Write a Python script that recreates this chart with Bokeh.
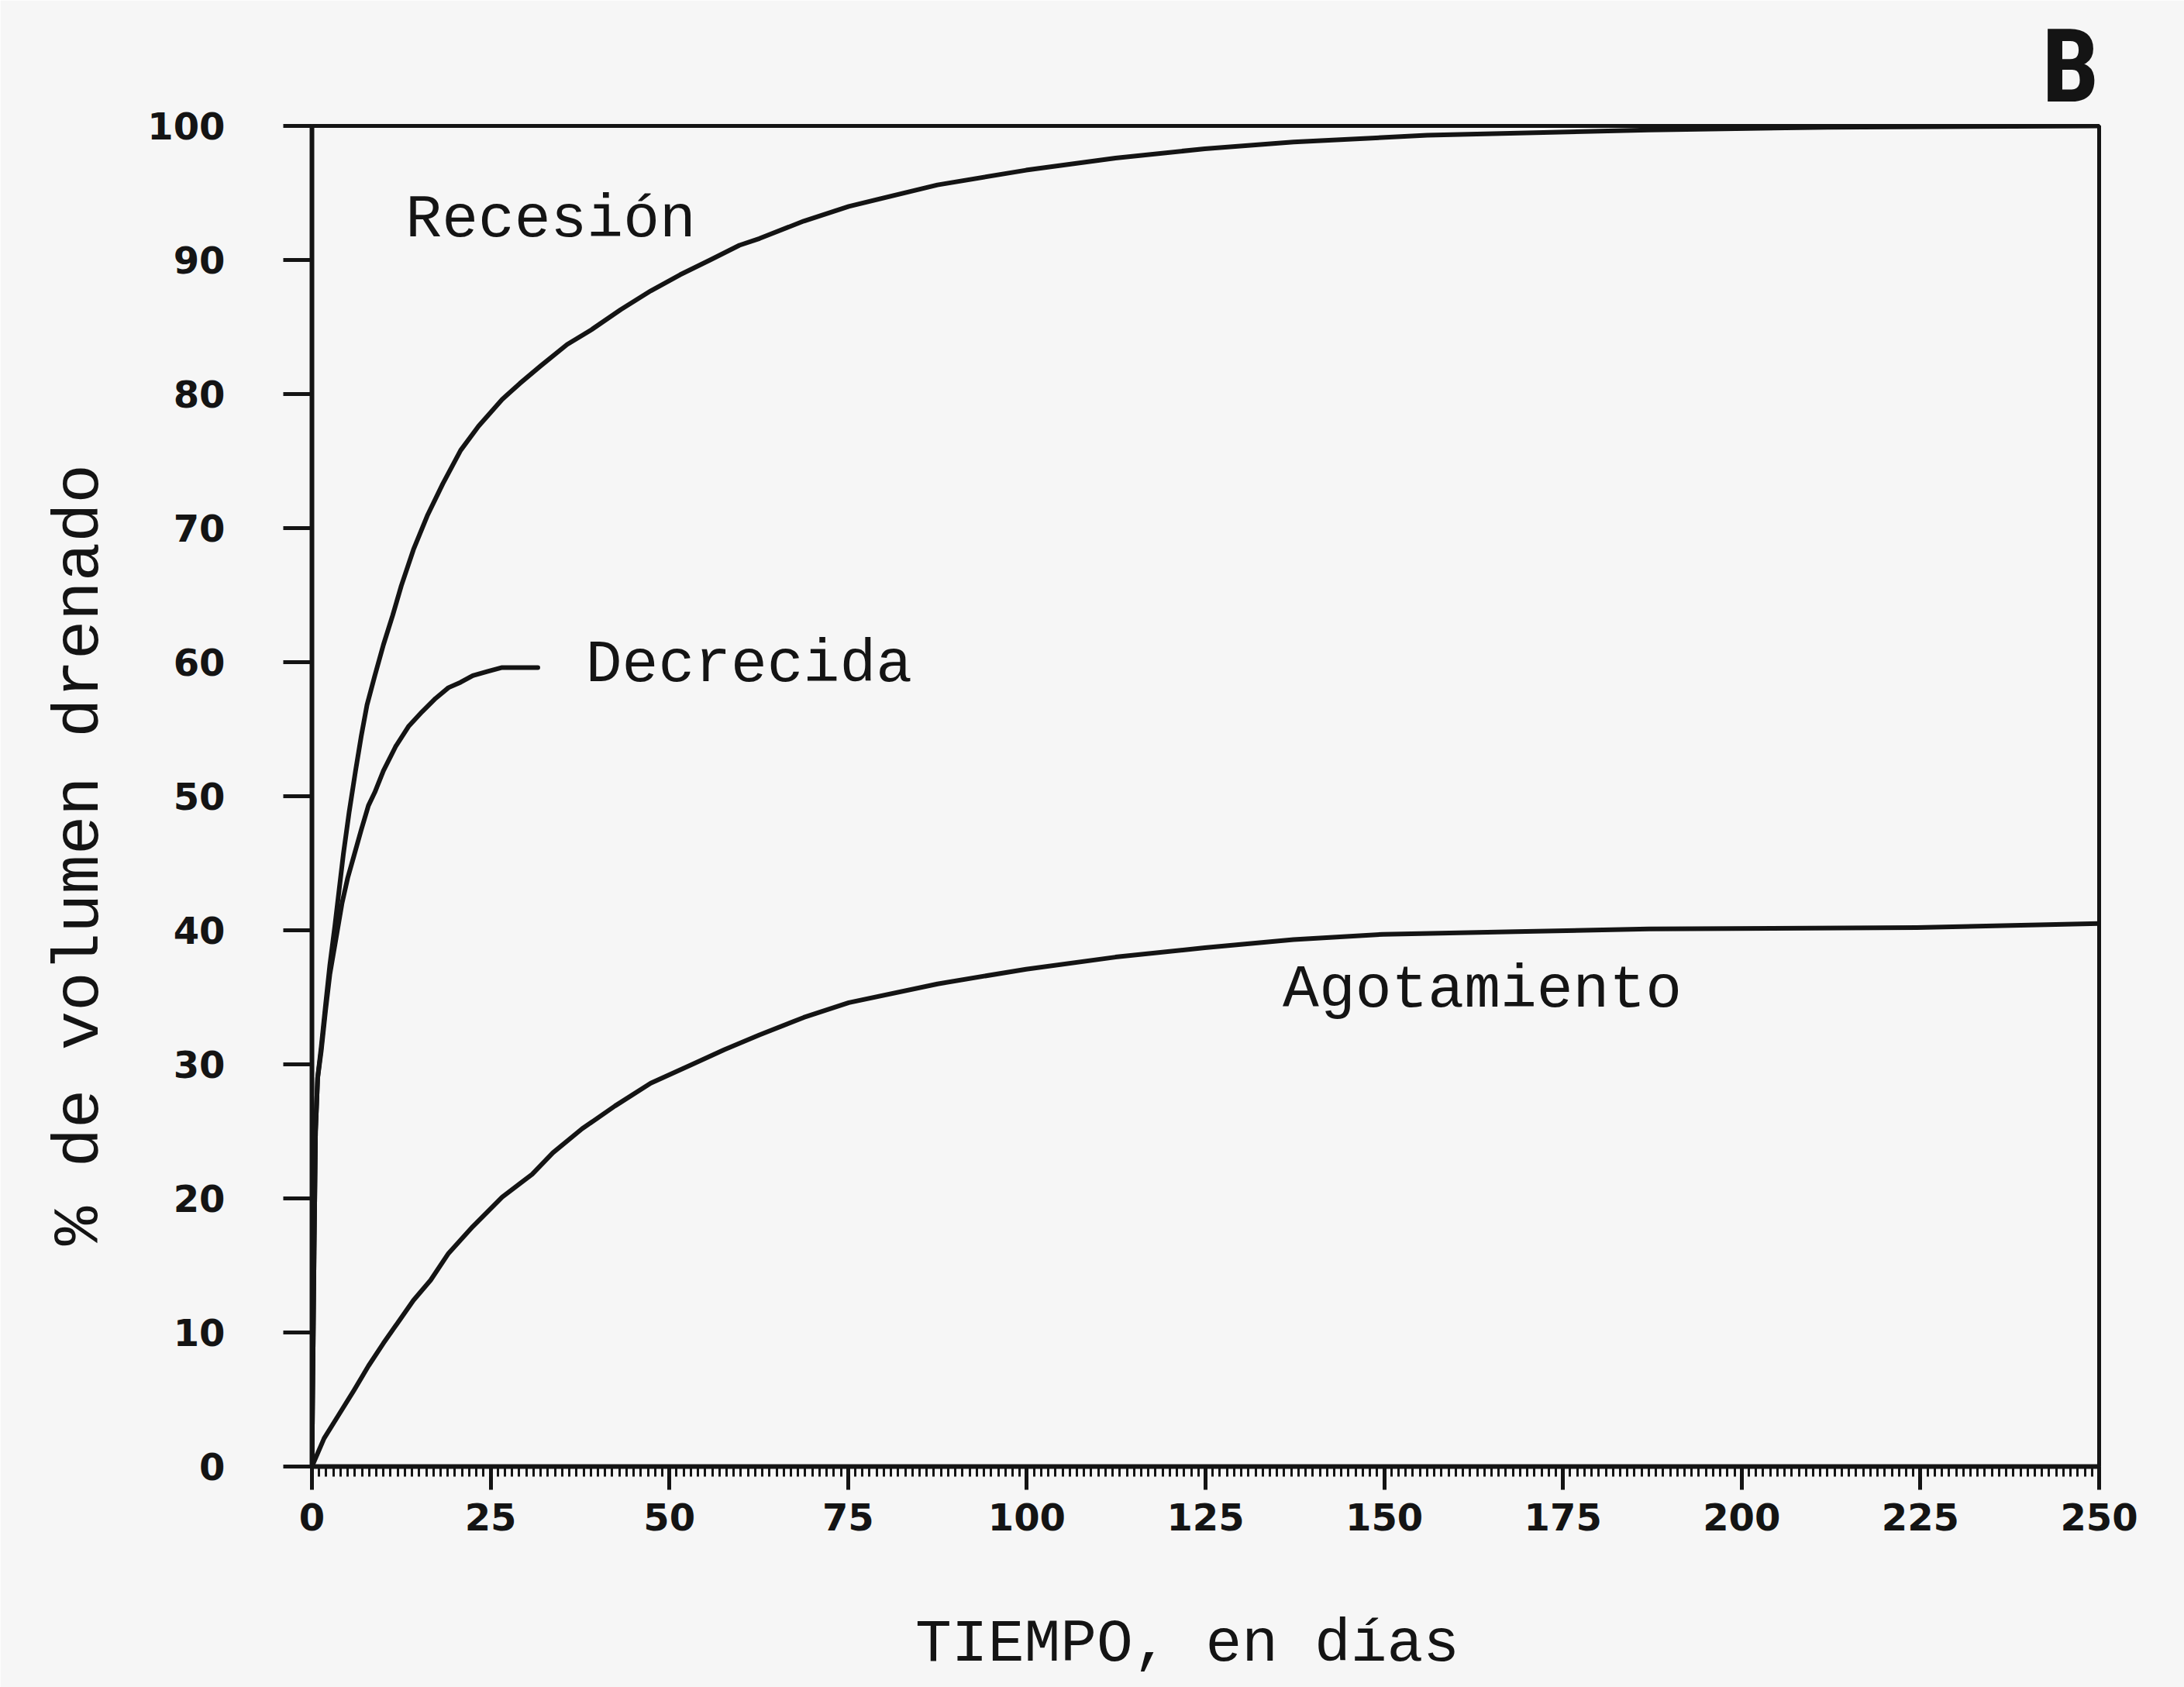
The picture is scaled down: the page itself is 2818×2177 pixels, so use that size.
from bokeh.plotting import figure
from bokeh.models import Range1d, SingleIntervalTicker, Label
from bokeh.embed import file_html
from bokeh.resources import INLINE

# Tiempo (días) y % de volumen drenado acumulado de cada componente
dias_recesion = [0, 0.15, 0.3, 0.5, 0.8, 1.3, 1.9, 2.5, 3.2, 3.8, 4.4, 5.2, 6.1, 6.9,
                 7.7, 8.8, 10.0, 11.3, 12.5, 14.2, 16.2, 18.3, 20.8, 23.3, 26.6,
                 29.1, 32.0, 35.7, 39.1, 43.2, 47.4, 51.5, 55.7, 59.8, 62.6, 68.8,
                 75.1, 87.5, 99.9, 112.4, 124.9, 137.3, 156, 187, 212, 250]
pct_recesion = [0, 8, 16, 25, 29, 31.3, 34.4, 37.4, 40.3, 43.0, 45.7, 48.8, 51.9, 54.5,
                56.8, 59.0, 61.3, 63.5, 65.7, 68.4, 71.0, 73.3, 75.8, 77.6, 79.6,
                80.8, 82.1, 83.7, 84.8, 86.3, 87.7, 88.9, 90.0, 91.1, 91.6, 92.9,
                94.0, 95.6, 96.7, 97.6, 98.3, 98.8, 99.3, 99.7, 99.9, 100]

dias_decrecida = [0, 0.15, 0.3, 0.5, 0.8, 1.3, 1.9, 2.5, 3.4, 4.2, 5.0, 5.9, 6.9, 7.9,
                  8.8, 10.0, 11.7, 13.5, 15.4, 17.3, 19.1, 20.8, 22.5, 24.5, 26.6,
                  31.6]
pct_decrecida = [0, 8, 16, 25, 29, 31.0, 34.0, 36.7, 39.5, 42.0, 43.9, 45.6, 47.5, 49.3,
                 50.3, 51.9, 53.7, 55.2, 56.3, 57.3, 58.1, 58.5, 59.0, 59.3, 59.6,
                 59.6]

dias_agotamiento = [0, 1.7, 3.8, 5.9, 7.9, 10.0, 12.1, 14.2, 16.6, 19.1, 22.5, 26.6,
                    30.8, 33.7, 37.8, 42.4, 47.4, 53.2, 57.7, 62.6, 68.8, 75.1, 87.5,
                    99.9, 112.4, 124.9, 137.3, 149.8, 168.4, 187, 224.5, 250]
pct_agotamiento = [0, 2.1, 3.9, 5.7, 7.5, 9.2, 10.8, 12.4, 13.9, 15.9, 17.9, 20.1,
                   21.8, 23.4, 25.2, 26.9, 28.6, 30.0, 31.1, 32.2, 33.5, 34.6, 36.0,
                   37.1, 38.0, 38.7, 39.3, 39.7, 39.9, 40.1, 40.2, 40.5]

curvas = [
    ("Recesión", dias_recesion, pct_recesion, 13.1, 93.0),
    ("Decrecida", dias_decrecida, pct_decrecida, 38.3, 59.8),
    ("Agotamiento", dias_agotamiento, pct_agotamiento, 135.8, 35.5),
]

INK = "#141414"
BG = "#f6f6f6"
MONO = "Liberation Mono"
NBSP = "\u00a0"

p = figure(width=2818, height=2177, output_backend="svg", toolbar_location=None,
           x_range=Range1d(0, 250), y_range=Range1d(0, 100),
           min_border_left=402, min_border_right=110,
           min_border_top=162, min_border_bottom=285)
p.background_fill_color = BG
p.border_fill_color = BG
p.grid.visible = False
p.outline_line_color = INK
p.outline_line_width = 5
p.outline_line_alpha = 1.0

# Letra del panel, arriba a la derecha
p.title.text = "B"
p.title.align = "right"
p.title.standoff = 0
p.title.text_font = "Liberation Sans Narrow, Roboto Condensed, Roboto"
p.title.text_font_style = "bold"
p.title.text_font_size = "132px"
p.title.text_color = INK

# Eje X: marcas cada 25 días, subdivisión diaria
p.xaxis.ticker = SingleIntervalTicker(interval=25, num_minor_ticks=25)
p.xaxis.major_tick_out = 30
p.xaxis.major_tick_in = 0
p.xaxis.minor_tick_out = 13
p.xaxis.minor_tick_in = 0
p.xaxis.major_label_standoff = 17
p.xaxis.axis_label = "TIEMPO, en días" + NBSP
p.xaxis.axis_label_standoff = 100
p.xaxis.axis_label_text_font_size = "78px"

# Eje Y: cada 10 %
p.yaxis.ticker = SingleIntervalTicker(interval=10, num_minor_ticks=0)
p.yaxis.major_tick_out = 37
p.yaxis.major_tick_in = 0
p.yaxis.minor_tick_out = 0
p.yaxis.minor_tick_in = 0
p.yaxis.major_label_standoff = 75
p.yaxis.axis_label = "% de volumen drenado" + NBSP * 3
p.yaxis.axis_label_standoff = 36
p.yaxis.axis_label_text_font_size = "84px"

for ax in (p.xaxis, p.yaxis):
    ax.axis_line_color = INK
    ax.axis_line_width = 6
    ax.major_tick_line_color = INK
    ax.major_tick_line_width = 5
    ax.minor_tick_line_color = INK
    ax.minor_tick_line_width = 3
    ax.major_label_text_font = "DejaVu Sans"
    ax.major_label_text_font_style = "bold"
    ax.major_label_text_font_size = "48px"
    ax.major_label_text_color = INK
    ax.axis_label_text_font = MONO
    ax.axis_label_text_font_style = "normal"
    ax.axis_label_text_color = INK

for nombre, xs, ys, lx, ly in curvas:
    p.line(xs, ys, line_color=INK, line_width=6, line_join="round", line_cap="round")
    p.add_layout(Label(x=lx, y=ly, text=nombre, text_font=MONO, text_font_size="78px",
                       text_color=INK, text_align="left", text_baseline="alphabetic"))

open("out.html", "w").write(file_html(p, INLINE))
